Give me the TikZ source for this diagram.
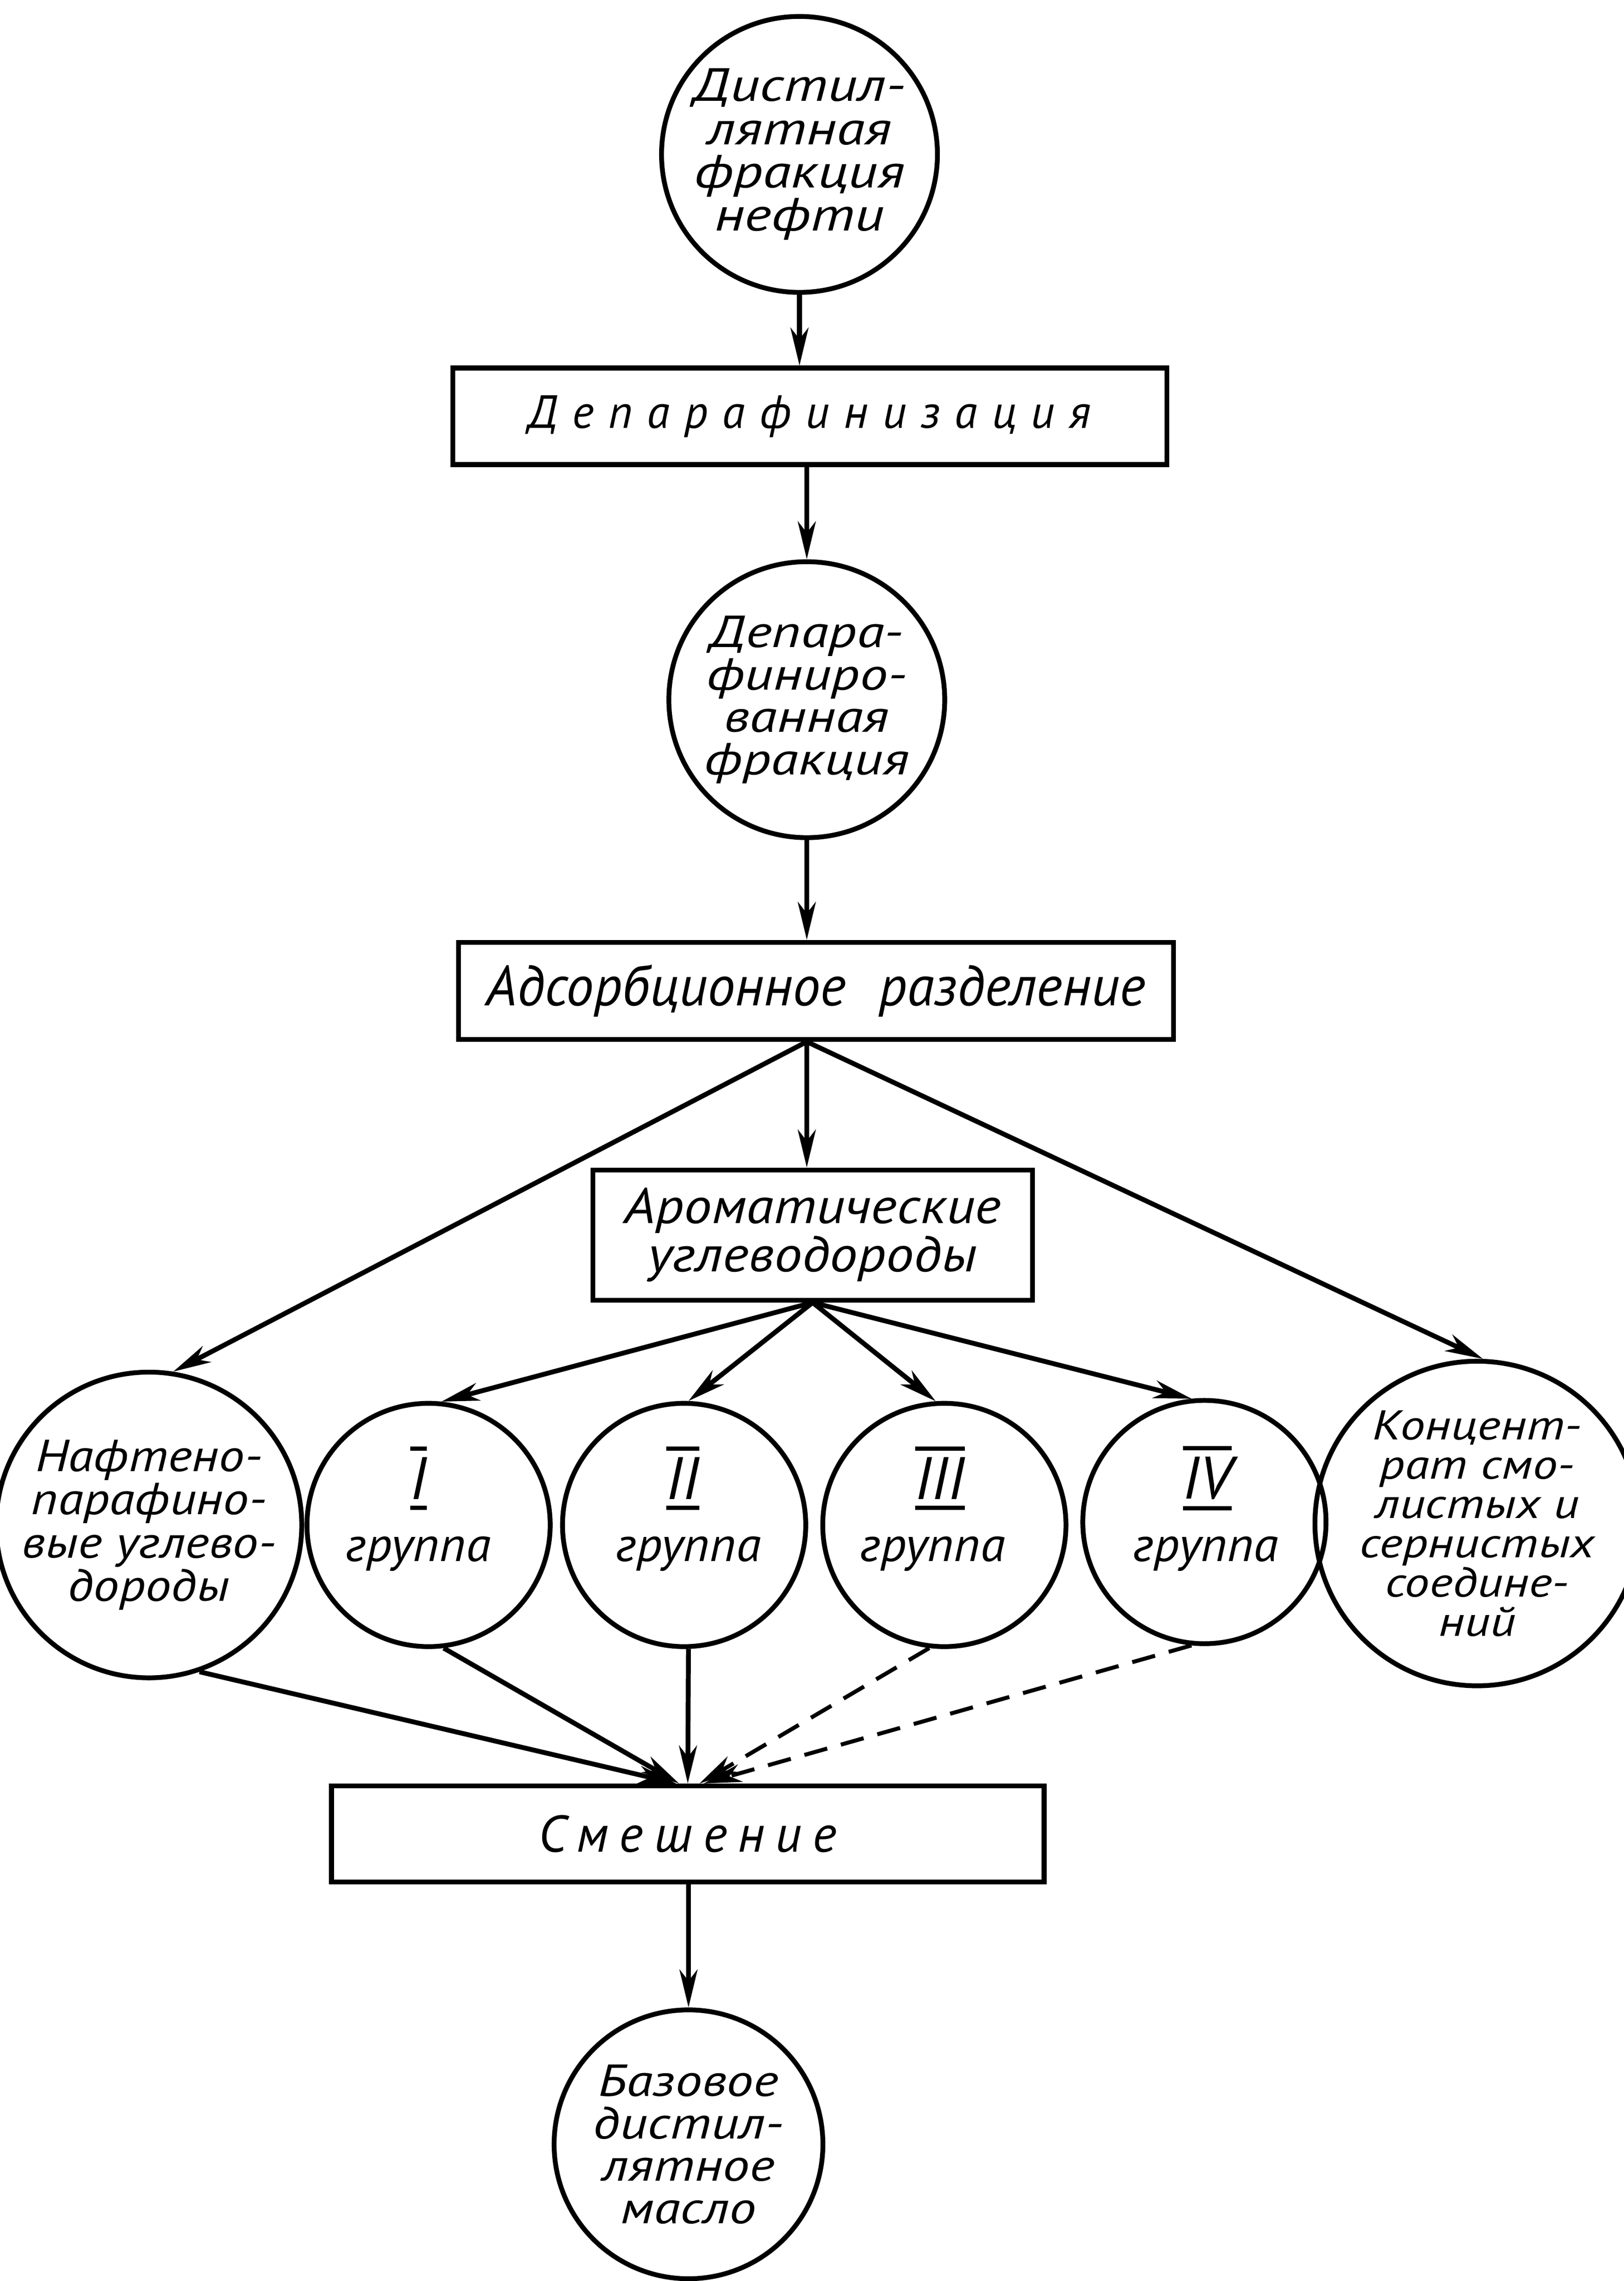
\documentclass[tikz,border=0pt]{standalone}
\usepackage{fontspec}
\setmainfont{PT Sans}
\usetikzlibrary{arrows.meta,calc}
\newcommand\myfnt[4]{\fontsize{#1}{#2}\selectfont\itshape\addfontfeatures{FakeStretch=#3,LetterSpace=#4}\lineskiplimit=-100pt\relax}
\newcommand\romn[1]{\setbox0=\hbox{#1}\edef\rw{\the\wd0}\vbox{\hrule height 2.6pt width \rw\kern4pt\box0\kern4pt\hrule height 2.6pt width \rw}}
\tikzset{
  circ/.style={circle, draw, line width=2.9pt, inner sep=0pt, align=center},
  boxx/.style={rectangle, draw, line width=2.9pt, inner sep=0pt, align=center},
  txt/.style={inner sep=0pt, align=center},
  arr/.style={line width=2.9pt, -{Stealth[length=8mm,width=3.8mm,inset=2.4mm]}},
  dsh/.style={arr, line width=2.4pt, dash pattern=on 5mm off 3mm},
}
\begin{document}
\begin{tikzpicture}[x=0.3086mm, y=-0.3086mm]
\useasboundingbox (0,0) rectangle (1112.1,1561.6);
\fill[white] (0,0) rectangle (1112.1,1561.6);

% top chain
\node[circ, minimum size=58.3mm, font={\myfnt{28}{26}{1.24}{0}}] (c1) at (547.5,105.7) {Дистил-\\лятная\\фракция\\нефти};
\node[boxx, minimum width=150.9mm, minimum height=20.4mm, font={\myfnt{28}{28}{1}{31}}] (b1) at (554.5,285) {Депарафинизация};
\node[circ, minimum size=58.3mm, font={\myfnt{27}{25.5}{1.25}{0}}] (c2) at (552.5,479) {Депара-\\финиро-\\ванная\\фракция};
\node[boxx, minimum width=151.1mm, minimum height=20.5mm, font={\myfnt{34}{34}{0.98}{0}}] (b2) at (558.7,678.3) {Адсорбционное\hspace*{7mm}разделение};
\node[boxx, minimum width=92.9mm, minimum height=27.5mm, font={\myfnt{30}{29}{1.12}{0}}] (b3) at (556.5,845.5) {Ароматические\\углеводороды};

% row of circles
\node[circ, minimum size=58.3mm, font={\myfnt{27}{26}{1.15}{0}}] (naf) at (102,1044) {Нафтено-\\парафино-\\вые углево-\\дороды};
\node[circ, minimum size=51.4mm] (g1) at (293.5,1044) {};
\node[circ, minimum size=51.4mm] (g2) at (468.5,1044) {};
\node[circ, minimum size=51.4mm] (g3) at (646.7,1044) {};
\node[circ, minimum size=51.4mm] (g4) at (824.8,1042) {};
\node[circ, minimum size=57.7mm, font={\myfnt{25}{23.6}{1.2}{0}}] (kon) at (1011.6,1043) {Концент-\\рат смо-\\листых и\\сернистых\\соедине-\\ний};

\node[txt, font={\myfnt{36}{36}{1}{0}}] (g1n) at ($(g1)+(-7,-32)$) {\romn{I}};
\node[txt, font={\myfnt{36}{36}{1}{0}}] (g2n) at ($(g2)+(-1,-32)$) {\romn{II}};
\node[txt, font={\myfnt{36}{36}{1}{0}}] (g3n) at ($(g3)+(-3,-32)$) {\romn{III}};
\node[txt, font={\myfnt{36}{36}{1}{0}}] (g4n) at ($(g4)+(2,-30)$) {\romn{IV}};
\node[txt, anchor=base, font={\myfnt{29}{29}{1.05}{0}}] (g1t) at ($(g1)+(-7,25)$) {группа};
\node[txt, anchor=base, font={\myfnt{29}{29}{1.05}{0}}] (g2t) at ($(g2)+(3,25)$) {группа};
\node[txt, anchor=base, font={\myfnt{29}{29}{1.05}{0}}] (g3t) at ($(g3)+(-8,25)$) {группа};
\node[txt, anchor=base, font={\myfnt{29}{29}{1.05}{0}}] (g4t) at ($(g4)+(1,27)$) {группа};

% bottom
\node[boxx, minimum width=150.6mm, minimum height=20.3mm, font={\myfnt{31}{31}{1}{21}}] (mix) at (471,1255.5) {Смешение};
\node[circ, minimum size=56.8mm, font={\myfnt{27}{25.5}{1.2}{0}}] (cb) at (471.5,1468) {Базовое\\дистил-\\лятное\\масло};

% connectors
\draw[arr] (c1.south) -- (c1.south |- b1.north);
\draw[arr] (b1.south -| c2.north) -- (c2.north);
\draw[arr] (c2.south) -- (c2.south |- b2.north);
\coordinate (s2) at (c2.south |- b2.south);
\coordinate (s3) at (b3.south);
\draw[arr] (s2) -- (s2 |- b3.north);
\draw[arr] (s2) -- (naf.81);
\draw[arr] (s2) -- (kon.88);
\draw[arr] (s3) -- (g1.84);
\draw[arr] (s3) -- (g2.88);
\draw[arr] (s3) -- (g3.94);
\draw[arr] (s3) -- (g4.96);
\draw[arr] (naf.-71) -- ($(mix.north)+(-8,0)$);
\draw[arr] (g1.-83) -- ($(mix.north)+(-6,0)$);
\draw[arr] (g2.-88) -- ($(mix.north)+(0,0)$);
\draw[dsh] (g3.-97) -- ($(mix.north)+(8,0)$);
\draw[dsh] (g4.-96) -- ($(mix.north)+(11,0)$);
\draw[arr] (mix.south -| cb.north) -- (cb.north);
\end{tikzpicture}
\end{document}
